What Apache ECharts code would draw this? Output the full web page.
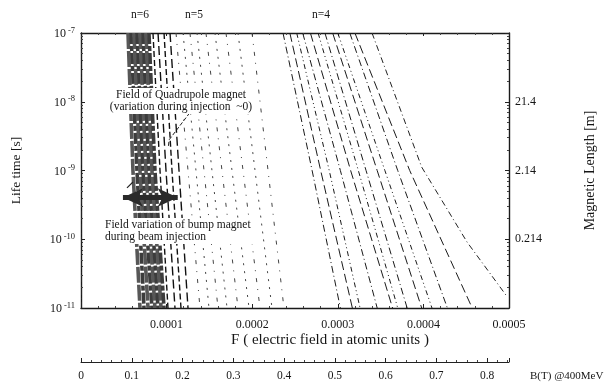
<!DOCTYPE html>
<html>
<head>
<meta charset="utf-8">
<script src="https://cdn.jsdelivr.net/npm/echarts/dist/echarts.min.js"></script>
<style>
html, body { margin: 0; padding: 0; background: #fff; }
#chart { width: 616px; height: 385px; }
</style>
</head>
<body>
<div id="chart"></div>
<script>
// Lifetimes (s) at which every Stark line is sampled
const tauLevels = [1e-7, 1e-9, 1e-11];

// Field F (atomic units) reached by each line at the three lifetimes
// n = 6 manifold, dense core
const n6Core = [
  [5.49e-5, 6.07e-5, 6.89e-5],
  [5.84e-5, 6.54e-5, 7.36e-5],
  [6.19e-5, 6.89e-5, 7.83e-5],
  [6.54e-5, 7.24e-5, 8.29e-5],
  [6.89e-5, 7.59e-5, 8.64e-5],
  [7.24e-5, 7.94e-5, 9.00e-5],
  [7.59e-5, 8.29e-5, 9.35e-5],
  [7.94e-5, 8.64e-5, 9.70e-5]
];
// n = 6 manifold, outer states
const n6Outer = [
  [8.41e-5, 9.23e-5, 1.016e-4],
  [9.00e-5, 9.93e-5, 1.098e-4],
  [9.70e-5, 1.063e-4, 1.168e-4],
  [1.040e-4, 1.145e-4, 1.250e-4]
];
// n = 5 manifold
const n5Lines = [
  [1.110e-4, 1.250e-4, 1.390e-4],
  [1.192e-4, 1.343e-4, 1.495e-4],
  [1.273e-4, 1.437e-4, 1.600e-4],
  [1.355e-4, 1.530e-4, 1.706e-4],
  [1.460e-4, 1.647e-4, 1.834e-4],
  [1.565e-4, 1.764e-4, 1.963e-4],
  [1.694e-4, 1.893e-4, 2.091e-4],
  [1.834e-4, 2.033e-4, 2.231e-4],
  [1.998e-4, 2.185e-4, 2.371e-4]
];
// n = 4 manifold
const n4Lines = [
  [2.36e-4, 2.70e-4, 3.03e-4],
  [2.44e-4, 2.80e-4, 3.17e-4],
  [2.52e-4, 2.90e-4, 3.26e-4],
  [2.59e-4, 3.03e-4, 3.46e-4],
  [2.68e-4, 3.15e-4, 3.64e-4],
  [2.77e-4, 3.24e-4, 3.70e-4],
  [2.85e-4, 3.33e-4, 3.81e-4],
  [2.94e-4, 3.46e-4, 3.98e-4],
  [3.00e-4, 3.55e-4, 4.10e-4],
  [3.14e-4, 3.70e-4, 4.28e-4],
  [3.20e-4, 3.84e-4, 4.57e-4]
];
// outermost n = 4 state (bends over at short lifetimes)
const n4EdgeF = [3.40e-4, 3.98e-4, 4.51e-4, 4.98e-4];
const n4EdgeTau = [1e-7, 1.12e-9, 9.1e-11, 1.45e-11];

// Bump-magnet field band (s) and its arrow extent in F
const bumpSolidTau = 4.55e-10;
const bumpDashTau = 4.05e-10;
const bumpArrowF = [4.9e-5, 1.13e-4];
const bumpPointerF = [5.37e-5, 6.07e-5];
const bumpPointerTau = [5.6e-10, 6.8e-10];
// Quadrupole annotation pointer
const quadPointerF = [1.27e-4, 1.03e-4, 1.02e-4];
const quadPointerTau = [6.9e-9, 2.8e-9, 2.2e-9];

// Grid positions
const gridTau = [1e-8, 1e-9, 1e-10];
const gridF = [0.0003, 0.0004];

// Axis ticks and labels
const lifeTickValues = [1e-11, 1e-10, 1e-9, 1e-8, 1e-7];
const lifeTickExp = ['-11', '-10', '-9', '-8', '-7'];
const lengthTickText = ['', '0.214', '2.14', '21.4', ''];
const fTickValues = [0.0001, 0.0002, 0.0003, 0.0004, 0.0005];
const fTickText = ['0.0001', '0.0002', '0.0003', '0.0004', '0.0005'];
const bTickText = ['0', '0.1', '0.2', '0.3', '0.4', '0.5', '0.6', '0.7', '0.8'];
const bMax = 0.843;
const fMax = 0.0005;

const SERIF = '"Liberation Serif", "DejaVu Serif", serif';
const INK = '#151515';

function tickIndex(list, v) {
  for (let i = 0; i < list.length; i++) {
    if (Math.abs(Math.log10(list[i]) - Math.log10(v)) < 1e-3) return i;
  }
  return -1;
}

function pairs(fs, taus) {
  return fs.map((f, i) => [f, taus[i]]);
}

function lineSeries(data, lineStyle, z) {
  return {
    type: 'line',
    data: data,
    symbol: 'none',
    silent: true,
    animation: false,
    xAxisIndex: 0,
    yAxisIndex: 0,
    z: z || 2,
    lineStyle: lineStyle
  };
}

const series = [];
n6Core.forEach((row, i) => series.push(lineSeries(pairs(row, tauLevels),
  { color: i % 2 ? '#3c3c3c' : '#575757', width: 3.6, type: i % 2 ? [11, 2, 5, 2] : [16, 2] })));
n6Outer.forEach((row, i) => series.push(lineSeries(pairs(row, tauLevels),
  { color: '#111', width: 1.4, type: i % 2 ? [9, 4] : [6, 3] })));
n5Lines.forEach((row, i) => series.push(lineSeries(pairs(row, tauLevels),
  { color: '#444', width: 1, type: i % 2 ? [2, 6] : [4, 7, 1, 7] })));
n4Lines.forEach((row, i) => series.push(lineSeries(pairs(row, tauLevels),
  { color: '#1a1a1a', width: 1, type: [[7, 3, 1, 3], [9, 4], [5, 3, 1, 3, 1, 3]][i % 3] })));
series.push(lineSeries(pairs(n4EdgeF, n4EdgeTau),
  { color: '#222', width: 1, type: [6, 3, 1, 3] }));

// Pointers to the annotations
series.push(lineSeries(pairs(quadPointerF, quadPointerTau),
  { color: '#222', width: 1, type: [4, 2] }, 4));
series.push(lineSeries(pairs(bumpPointerF, bumpPointerTau),
  { color: '#222', width: 1.2, type: 'solid' }, 4));

// Grid lines, bump-magnet lines and arrow
const dashDot = [6, 3, 1, 3];
series.push({
  type: 'line',
  data: [],
  silent: true,
  animation: false,
  z: 3,
  markLine: {
    silent: true,
    animation: false,
    symbol: 'none',
    label: { show: false },
    data: gridTau.map(t => ({ yAxis: t, lineStyle: { color: '#222', width: 1, type: dashDot } }))
      .concat(gridF.map(f => ({ xAxis: f, lineStyle: { color: '#222', width: 1, type: dashDot } })))
      .concat([
        { yAxis: bumpSolidTau, lineStyle: { color: '#111', width: 1.4, type: 'solid' } },
        { yAxis: bumpDashTau, lineStyle: { color: '#222', width: 1, type: [5, 2] } }
      ])
  }
});
series.push({
  type: 'line',
  data: [],
  silent: true,
  animation: false,
  z: 4,
  markLine: {
    silent: true,
    animation: false,
    symbol: ['arrow', 'arrow'],
    symbolSize: [14, 20],
    label: { show: false },
    lineStyle: { color: '#2a2a2a', width: 5, type: 'solid' },
    data: [[{ coord: [bumpArrowF[0], bumpDashTau] }, { coord: [bumpArrowF[1], bumpDashTau] }]]
  }
});

const axisLineStyle = { color: '#1a1a1a', width: 1.4 };

const option = {
  backgroundColor: '#fff',
  animation: false,
  grid: { left: 81, right: 107, top: 33, bottom: 77, outerBoundsMode: 'none' },
  xAxis: [
    {
      type: 'value', min: 0, max: fMax, interval: 0.0001, position: 'bottom',
      axisLine: { show: true, onZero: false, lineStyle: axisLineStyle },
      axisTick: { show: true, inside: true, length: 4, lineStyle: { color: '#222' } },
      minorTick: { show: true, splitNumber: 5, length: 2, lineStyle: { color: '#444' } },
      splitLine: { show: false },
      axisLabel: {
        margin: 11, color: INK, fontFamily: SERIF, fontSize: 12,
        formatter: v => { const i = fTickValues.findIndex(t => Math.abs(t - v) < 1e-9); return i < 0 ? '' : fTickText[i]; }
      }
    },
    {
      type: 'value', min: 0, max: fMax, interval: 0.0001, position: 'top',
      axisLine: { show: true, onZero: false, lineStyle: axisLineStyle },
      axisTick: { show: true, inside: true, length: 3, lineStyle: { color: '#222' } },
      minorTick: { show: true, splitNumber: 5, length: 2, lineStyle: { color: '#444' } },
      splitLine: { show: false },
      axisLabel: { show: false }
    },
    {
      type: 'value', min: 0, max: bMax, interval: 0.1, position: 'bottom', offset: 54,
      axisLine: { show: true, onZero: false, lineStyle: { color: '#222', width: 1 } },
      axisTick: { show: true, inside: true, length: 4, lineStyle: { color: '#222' } },
      minorTick: { show: true, splitNumber: 5, length: 2, lineStyle: { color: '#444' } },
      splitLine: { show: false },
      axisLabel: {
        margin: 8, color: INK, fontFamily: SERIF, fontSize: 11.5, showMaxLabel: false,
        formatter: v => { const i = Math.round(v * 10); return Math.abs(v * 10 - i) < 1e-6 ? (bTickText[i] || '') : ''; }
      }
    }
  ],
  yAxis: [
    {
      type: 'log', logBase: 10, min: 1e-11, max: 1e-7, position: 'left',
      name: 'Life time [s]', nameLocation: 'middle', nameGap: 58,
      nameTextStyle: { fontFamily: SERIF, fontSize: 13.5, color: INK },
      axisLine: { show: true, onZero: false, lineStyle: axisLineStyle },
      axisTick: { show: true, inside: true, length: 4, lineStyle: { color: '#222' } },
      minorTick: { show: true, splitNumber: 9, length: 2, lineStyle: { color: '#444' } },
      splitLine: { show: false },
      axisLabel: {
        margin: 6,
        formatter: v => { const i = tickIndex(lifeTickValues, v); return i < 0 ? '' : '{b|10}{e|' + lifeTickExp[i] + '}'; },
        rich: {
          b: { fontFamily: SERIF, fontSize: 12, color: INK, lineHeight: 14, verticalAlign: 'bottom' },
          e: { fontFamily: SERIF, fontSize: 8.5, color: INK, lineHeight: 6, verticalAlign: 'top', padding: [0, 0, 0, 2] }
        }
      }
    },
    {
      type: 'log', logBase: 10, min: 1e-11, max: 1e-7, position: 'right',
      name: 'Magnetic Length [m]', nameLocation: 'middle', nameGap: 74, nameRotate: 90,
      nameTextStyle: { fontFamily: SERIF, fontSize: 14, color: INK },
      axisLine: { show: true, onZero: false, lineStyle: axisLineStyle },
      axisTick: { show: true, inside: true, length: 4, lineStyle: { color: '#222' } },
      minorTick: { show: true, splitNumber: 9, length: 2, lineStyle: { color: '#444' } },
      splitLine: { show: false },
      axisLabel: {
        margin: 6, color: INK, fontFamily: SERIF, fontSize: 12,
        formatter: v => { const i = tickIndex(lifeTickValues, v); return i < 0 ? '' : lengthTickText[i]; }
      }
    }
  ],
  graphic: [
    { type: 'text', x: 140, y: 15, z: 50, style: { text: 'n=6', font: '11.5px ' + SERIF, fill: INK, align: 'center', verticalAlign: 'middle' } },
    { type: 'text', x: 194, y: 15, z: 50, style: { text: 'n=5', font: '11.5px ' + SERIF, fill: INK, align: 'center', verticalAlign: 'middle' } },
    { type: 'text', x: 321, y: 15, z: 50, style: { text: 'n=4', font: '11.5px ' + SERIF, fill: INK, align: 'center', verticalAlign: 'middle' } },
    { type: 'text', x: 330, y: 340, z: 50, style: { text: 'F ( electric field in atomic units )', font: '15px ' + SERIF, fill: INK, align: 'center', verticalAlign: 'middle' } },
    { type: 'text', x: 530, y: 376, z: 50, style: { text: 'B(T) @400MeV', font: '11px ' + SERIF, fill: INK, align: 'left', verticalAlign: 'middle' } },
    { type: 'text', x: 181, y: 101, z: 50, style: {
      text: 'Field of Quadrupole magnet\n(variation during injection  ~0)', font: '11.5px ' + SERIF, fill: INK,
      align: 'center', verticalAlign: 'middle', lineHeight: 12, backgroundColor: '#fff', padding: [1, 3, 1, 3] } },
    { type: 'text', x: 102, y: 231, z: 50, style: {
      text: 'Field variation of bump magnet\nduring beam injection', font: '11.5px ' + SERIF, fill: INK,
      align: 'left', verticalAlign: 'middle', lineHeight: 12, backgroundColor: '#fff', padding: [1, 3, 1, 3] } }
  ],
  series: series
};

const chart = echarts.init(document.getElementById('chart'), null, { renderer: 'canvas' });
chart.setOption(option);
</script>
</body>
</html>
